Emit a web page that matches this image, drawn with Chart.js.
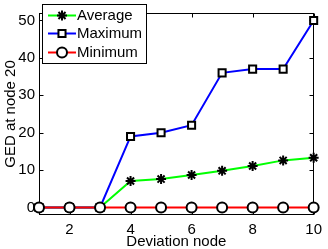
<!DOCTYPE html>
<html><head><meta charset="utf-8">
<script src="https://cdn.jsdelivr.net/npm/chart.js@4/dist/chart.umd.min.js"></script>
<style>html,body{margin:0;padding:0;background:#fff;}#wrap{width:328px;height:249px;}</style>
</head><body><div id="wrap"><canvas id="c" width="328" height="249"></canvas></div>
<script>
const nodes = [1,2,3,4,5,6,7,8,9,10];
const averageGED = [0,0,0,7.1,7.6,8.7,9.8,11.1,12.6,13.3];
const maximumGED = [0,0,0,19,20,22,36,37,37,50];
const minimumGED = [0,0,0,0,0,0,0,0,0,0];
const xTicks = [2,4,6,8,10];
const yTicks = [0,10,20,30,40,50];
const seriesNames = ['Average','Maximum','Minimum'];
const xTitle = 'Deviation node';
const yTitle = 'GED at node 20';

const FONT = 'Liberation Sans, Arial, Helvetica, sans-serif';

function pts(vals){ return nodes.map((n,i)=>({x:n,y:vals[i]})); }

const boxPlugin = {
  id:'box',
  beforeDatasetsDraw(chart){
    const {ctx, chartArea:a, scales:{x,y}} = chart;
    ctx.save();
    ctx.strokeStyle='#000'; ctx.lineWidth=1;
    const L=Math.round(a.left)+0.5, R=Math.round(a.right)-0.5, T=Math.round(a.top)+0.5, B=Math.round(a.bottom)-0.5;
    ctx.strokeRect(L,T,R-L,B-T);
    ctx.beginPath();
    const tl=4;
    xTicks.forEach(v=>{const px=Math.round(x.getPixelForValue(v))+0.5; ctx.moveTo(px,B); ctx.lineTo(px,B-tl); ctx.moveTo(px,T); ctx.lineTo(px,T+tl);});
    yTicks.forEach(v=>{const py=Math.round(y.getPixelForValue(v))+0.5; ctx.moveTo(L,py); ctx.lineTo(L+tl,py); ctx.moveTo(R,py); ctx.lineTo(R-tl,py);});
    ctx.stroke();
    ctx.restore();
  },
  afterDraw(chart){
    const {ctx} = chart;
    ctx.save();
    ctx.fillStyle='#fff'; ctx.strokeStyle='#000'; ctx.lineWidth=1;
    ctx.fillRect(42.5,4.5,104,59);
    ctx.strokeRect(42.5,4.5,104,59);
    const rows=[15.5,33.5,52.5];
    chart.data.datasets.forEach((ds,i)=>{
      const yy=rows[i];
      ctx.strokeStyle=ds.borderColor; ctx.lineWidth=2;
      ctx.beginPath(); ctx.moveTo(48,yy); ctx.lineTo(76,yy); ctx.stroke();
      ctx.fillStyle=ds.pointBackgroundColor; ctx.strokeStyle=ds.pointBorderColor; ctx.lineWidth=ds.pointBorderWidth;
      ctx.beginPath();
      Chart.helpers.drawPoint(ctx,{pointStyle:ds.pointStyle,radius:ds.pointRadius,borderWidth:ds.pointBorderWidth,rotation:0},62,yy);
      ctx.fillStyle='#000'; ctx.font='15px '+FONT; ctx.textBaseline='middle'; ctx.textAlign='left';
      ctx.fillText(ds.label,77,yy+0.5);
    });
    ctx.restore();
  }
};

const common = {borderWidth:2, pointBorderColor:'#000', pointBackgroundColor:'#fff', pointBorderWidth:2, clip:false, tension:0};

new Chart(document.getElementById('c'),{
  type:'line',
  data:{datasets:[
    Object.assign({label:seriesNames[0], data:pts(averageGED), borderColor:'#00ff00', pointStyle:'star', pointRadius:5, order:2}, common, {pointBackgroundColor:'#000'}),
    Object.assign({label:seriesNames[1], data:pts(maximumGED), borderColor:'#0000ff', pointStyle:'rect', pointRadius:5, order:1}, common),
    Object.assign({label:seriesNames[2], data:pts(minimumGED), borderColor:'#ff0000', pointStyle:'circle', pointRadius:5, order:0}, common)
  ]},
  options:{
    responsive:false, animation:false, devicePixelRatio:1,
    layout:{padding:{top:1,right:8,left:0,bottom:0}},
    plugins:{legend:{display:false}, tooltip:{enabled:false}},
    scales:{
      x:{type:'linear', min:1, max:10,
        afterBuildTicks(s){ s.ticks = xTicks.map(v=>({value:v})); },
        afterFit(s){ s.height = 34; },
        grid:{display:false, drawTicks:false}, border:{display:false},
        ticks:{color:'#000', font:{family:FONT,size:15}, padding:6, maxRotation:0, autoSkip:false},
        title:{display:true, text:xTitle, color:'#000', font:{family:FONT,size:15,lineHeight:1}, padding:{top:0,bottom:0}}
      },
      y:{type:'linear', min:-2, max:52,
        afterBuildTicks(s){ s.ticks = yTicks.map(v=>({value:v})); },
        afterFit(s){ s.width = 39; },
        grid:{display:false, drawTicks:false}, border:{display:false},
        ticks:{color:'#000', font:{family:FONT,size:15}, padding:4, autoSkip:false},
        title:{display:true, text:yTitle, color:'#000', font:{family:FONT,size:15,lineHeight:1}, padding:{top:3,bottom:3}}
      }
    }
  },
  plugins:[boxPlugin]
});
</script></body></html>
